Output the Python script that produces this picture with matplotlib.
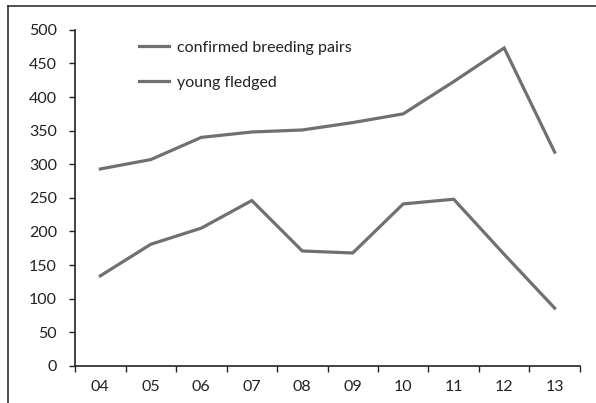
import matplotlib
matplotlib.use('Agg')
import matplotlib.pyplot as plt
from matplotlib.lines import Line2D

years = ['04', '05', '06', '07', '08', '09', '10', '11', '12', '13']
breeding_pairs = [293, 307, 340, 348, 351, 362, 375, 423, 473, 318]
young_fledged = [134, 181, 205, 246, 171, 168, 241, 248, 166, 86]
y_ticks = [0, 50, 100, 150, 200, 250, 300, 350, 400, 450, 500]

plt.rcParams['font.family'] = ['Lato', 'DejaVu Sans']
line_color = '#707070'
ink = '#222222'

fig = plt.figure(figsize=(5.96, 4.03), dpi=100)
ax = fig.add_axes([0.126, 0.092, 0.847, 0.834])

x = [i + 0.5 for i in range(len(years))]
ax.plot(x, breeding_pairs, color=line_color, lw=2.3, solid_joinstyle='miter',
        label='confirmed breeding pairs')
ax.plot(x, young_fledged, color=line_color, lw=2.3, solid_joinstyle='miter',
        label='young fledged')

ax.set_xlim(0, len(years))
ax.set_ylim(0, 500)
ax.set_yticks(y_ticks)
ax.set_yticklabels([str(v) for v in y_ticks], fontsize=11.5, color=ink)
ax.set_xticks(range(len(years) + 1))
ax.set_xticklabels([''] * (len(years) + 1))
ax.set_xticks(x, minor=True)
ax.set_xticklabels(years, minor=True, fontsize=11.5, color=ink)
ax.tick_params(axis='x', which='minor', length=0, pad=10)
ax.tick_params(axis='both', which='major', length=4, width=1, color=ink, direction='out')
ax.tick_params(axis='y', pad=9)

for s in ['top', 'right']:
    ax.spines[s].set_visible(False)
for s in ['left', 'bottom']:
    ax.spines[s].set_color(ink)
    ax.spines[s].set_linewidth(1.2)

ax.legend(loc='upper left', bbox_to_anchor=(0.098, 1.01), frameon=False,
          fontsize=11.5, handlelength=1.9, handletextpad=0.5, labelspacing=1.3,
          labelcolor=ink)

# outer frame (top and left edges)
fig.add_artist(Line2D([8 / 596, 1.0], [1 - 6 / 403, 1 - 6 / 403],
                      transform=fig.transFigure, color='#333333', lw=1.2))
fig.add_artist(Line2D([8 / 596, 8 / 596], [0, 1 - 6 / 403],
                      transform=fig.transFigure, color='#333333', lw=1.2))

fig.savefig('out.png', dpi=100)
